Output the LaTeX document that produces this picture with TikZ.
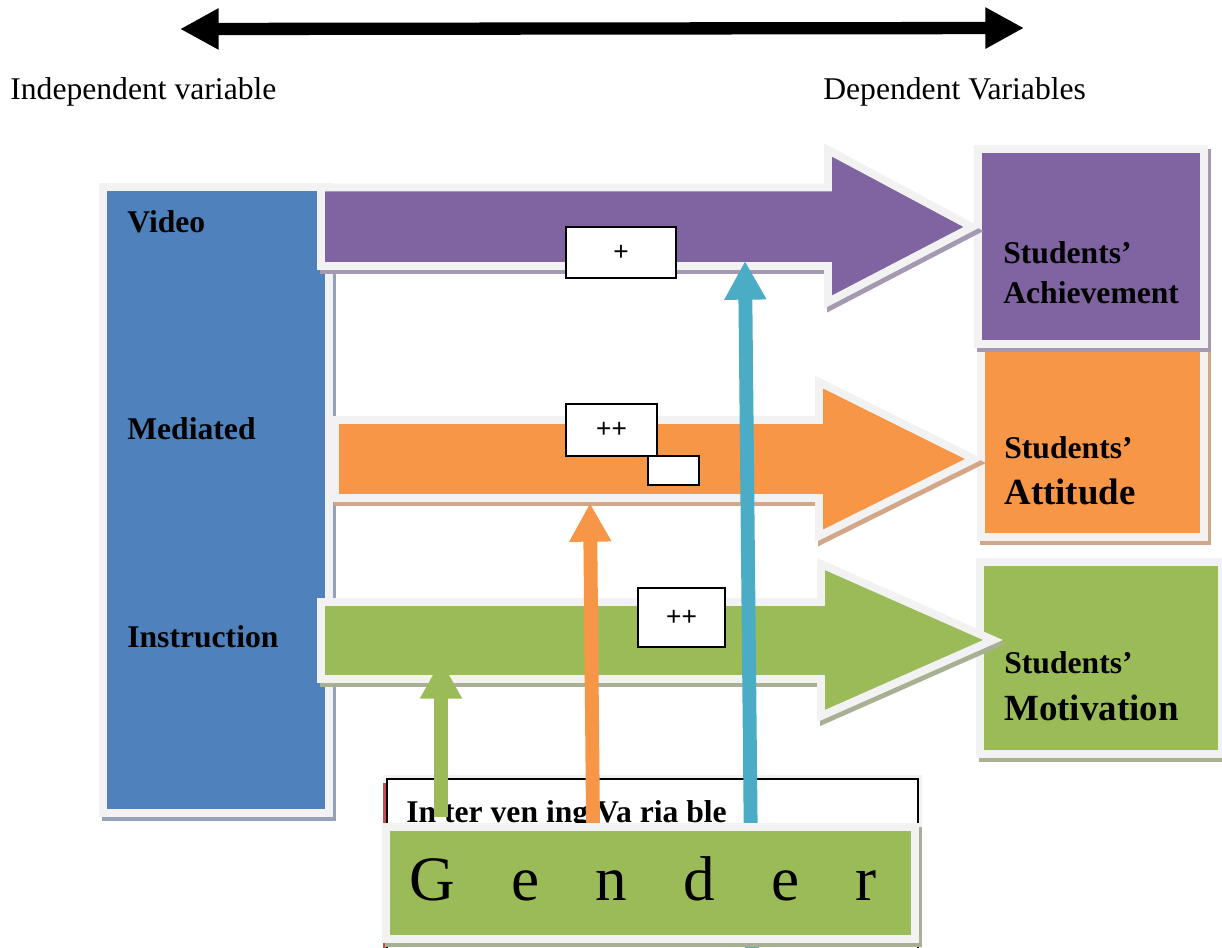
\documentclass[tikz,border=0pt]{standalone}
\usepackage{fontspec}
\setmainfont{Liberation Serif}
\newfontfamily\signfont{Liberation Sans}
\usetikzlibrary{arrows.meta}
\definecolor{bluebox}{HTML}{4F81BD}
\definecolor{purp}{HTML}{8064A2}
\definecolor{orng}{HTML}{F79646}
\definecolor{grn}{HTML}{9BBB59}
\definecolor{aqua}{HTML}{4BACC6}
\definecolor{bord}{HTML}{F2F2F2}
\definecolor{bluesh}{HTML}{93A2B8}
\definecolor{purpsh}{HTML}{A499B1}
\definecolor{orngsh}{HTML}{D2A688}
\definecolor{grnsh}{HTML}{A7B092}
\definecolor{ivred}{HTML}{C0504D}
\tikzset{
  panel/.style 2 args={fill=#1, draw=bord, line width=4.5pt,
    preaction={fill=#2, draw=#2, line width=4.5pt, transform canvas={shift={(3,4)}}}},
  lbl/.style={inner sep=0pt, anchor=base west, font=\bfseries\fontsize{18}{20}\selectfont},
  sign/.style={draw, fill=white, line width=1pt, inner sep=0pt, font=\signfont\fontsize{15}{17}\selectfont},
  up/.style={line width=7.9pt, -{Triangle[length=22pt,width=22.5pt]}},
}
\begin{document}
\begin{tikzpicture}[x=0.02cm,y=-0.02cm]
  \useasboundingbox (0,0) rectangle (1222,947);

  \coordinate (lend) at (180,29);
  \coordinate (rend) at (1024,28);
  \draw[line width=7pt, {Triangle[length=22pt,width=22pt]}-{Triangle[length=22pt,width=22pt]}] (lend) -- (rend);
  \node[inner sep=0pt, anchor=base west, font=\fontsize{18}{20}\selectfont] (indep) at (10,99) {Independent variable};
  \node[inner sep=0pt, anchor=base west, font=\fontsize{18}{20}\selectfont] (dep) at (823,99) {Dependent Variables};

  \node[panel={bluebox}{bluesh}, minimum width=4.52cm, minimum height=12.52cm] (indbox) at (216,500) {};
  \node[panel={orng}{orngsh}, minimum width=4.46cm, minimum height=3.78cm] (attbox) at (1092.5,442.5) {};
  \node[panel={purp}{purpsh}, minimum width=4.52cm, minimum height=3.9cm] (achbox) at (1091,246.5) {};
  \node[panel={grn}{grnsh}, minimum width=4.84cm, minimum height=3.84cm] (motbox) at (1101,658) {};

  \foreach \col/\shd/\lx/\ty/\by/\hx/\hty/\hby/\tx/\my in
    {purp/purpsh/321/187.5/266/828/150/302/972/227,
     orng/orngsh/335/420/498/819/382/536/974/459,
     grn/grnsh/321/602/679/821/564/716/993/640}
    \draw[panel={\col}{\shd}] (\lx,\ty) -- (\hx,\ty) -- (\hx,\hty) -- (\tx,\my) -- (\hx,\hby) -- (\hx,\by) -- (\lx,\by) -- cycle;

  \node[lbl] (video) at (127,232) {Video};
  \node[lbl] (medi) at (127,439) {Mediated};
  \node[lbl] (instr) at (127,647) {Instruction};
  \node[lbl] (achA) at (1003,263) {Students'};
  \node[lbl] (achB) at (1003,303) {Achievement};
  \node[lbl] (attA) at (1004,458) {Students'};
  \node[lbl, font=\bfseries\fontsize{21}{24}\selectfont] (attB) at (1004,504) {Attitude};
  \node[lbl] (motA) at (1004,673) {Students'};
  \node[lbl, font=\bfseries\fontsize{21}{24}\selectfont] (motB) at (1004,720) {Motivation};

  \node[sign, minimum width=2.2cm, minimum height=1.02cm] (s1) at (621,252.5) {+};
  \node[sign, minimum width=1.82cm, minimum height=1.04cm] (s2) at (611.5,430) {++};
  \node[sign, minimum width=1.02cm, minimum height=0.58cm] (s3) at (673.5,470.5) {};
  \node[sign, minimum width=1.74cm, minimum height=1.18cm] (s4) at (681.5,617.5) {++};

  \node[draw, fill=white, line width=1.1pt, preaction={draw=bord, line width=5pt},
    minimum width=10.62cm, minimum height=4.22cm] (ivar) at (652.5,884.5) {};
  \draw[ivred, line width=1.7pt] (384.5,783) -- (384.5,990);
  \node[lbl] (ivtxt) at (406,822) {In ter ven ing Va ria ble};

  \coordinate (gA) at (441,817);
  \coordinate (tA) at (441,660);
  \coordinate (gB) at (593,823);
  \coordinate (tB) at (590,503);
  \coordinate (gC) at (752,960);
  \coordinate (tC) at (745,261);
  \draw[up, grn] (gA) -- (tA);
  \draw[up, orng] (gB) -- (tB);
  \draw[up, aqua] (gC) -- (tC);

  \node[panel={grn}{grnsh}, minimum width=10.58cm, minimum height=2.24cm] (gender) at (650.5,883) {};
  \node[inner sep=0pt, anchor=base, font=\fontsize{36}{40}\selectfont] (gtxt) at (643,900) {\makebox[9.36cm][s]{G e n d e r}};
\end{tikzpicture}
\end{document}
